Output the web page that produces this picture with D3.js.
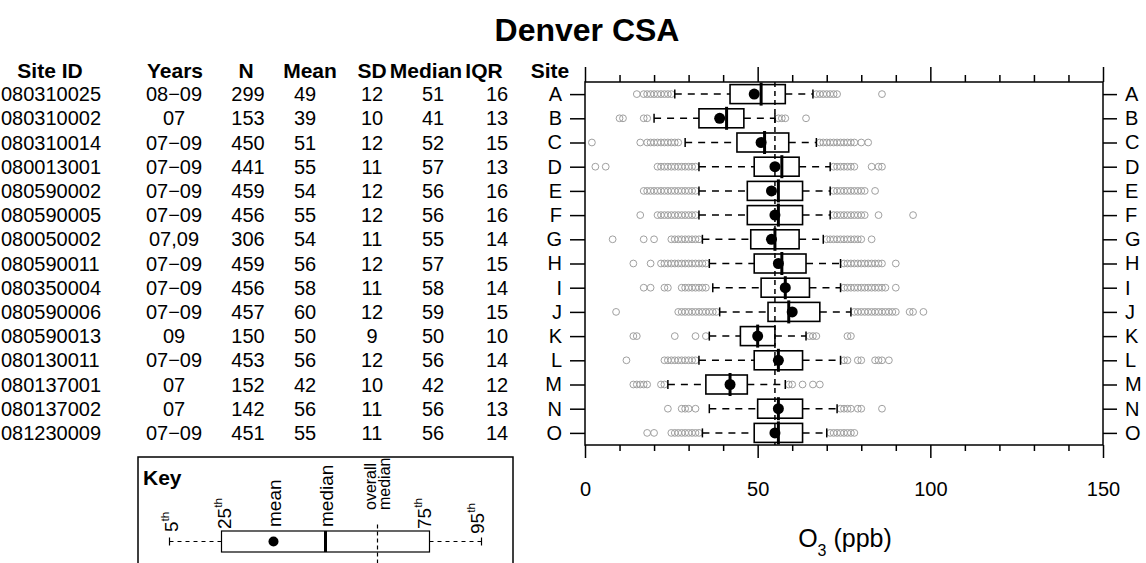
<!DOCTYPE html>
<html><head><meta charset="utf-8">
<script src="https://cdn.jsdelivr.net/npm/d3@7"></script>
<style>
body{margin:0;background:#fff}
text{font-family:"Liberation Sans",Arial,sans-serif;fill:#000}
</style>
</head><body>
<svg id="c" width="1146" height="563"></svg>
<script>
// ---------- data ----------
const sites   = ["A","B","C","D","E","F","G","H","I","J","K","L","M","N","O"];
const siteIds = ["080310025","080310002","080310014","080013001","080590002","080590005","080050002","080590011","080350004","080590006","080590013","080130011","080137001","080137002","081230009"];
const years   = ["08−09","07","07−09","07−09","07−09","07−09","07,09","07−09","07−09","07−09","09","07−09","07","07","07−09"];
const nVals   = [299,153,450,441,459,456,306,459,456,457,150,453,152,142,451];
const means   = [49,39,51,55,54,55,54,56,58,60,50,56,42,56,55];
const sds     = [12,10,12,11,12,12,11,12,11,12,9,12,10,11,11];
const medians = [51,41,52,57,56,56,55,57,58,59,50,56,42,56,56];
const iqrs    = [16,13,15,13,16,16,14,15,14,15,10,14,12,13,14];
const p5      = [26,20,29,33,33,33,34,36,37,39,36,33,24,36,34];
const p25     = [42,33,44,49,47,47,48,49,51,53,45,49,35,50,49];
const p75     = [58,46,59,62,63,63,62,64,65,68,55,63,47,63,63];
const p95     = [66,55,67,71,71,71,69,74,74,77,64,74,58,73,70];
const lowOut  = [
  [15,17,18,19,20,21,22,23,24,25],
  [10,11,17,18],
  [2,16,18,19,20,21,22,23,24,25,26,27],
  [3,6,21,22,23,24,25,26,27,28,29,30,31,32],
  [17,18,19,20,21,22,23,24,25,26,27,28,29,30,31,32],
  [16,21,22,23,24,25,26,27,28,29,30,31,32],
  [8,17,20,25,26,27,28,29,30,31,32,33],
  [14,19,22,23,24,25,26,27,28,29,30,31,32,33,34,35],
  [17,19,23,24,28,29,30,31,32,33,34,35],
  [9,27,28,29,30,31,32,33,34,35,36,37,38],
  [14,15,26,32,35],
  [12,23,24,25,26,27,28,29,30,31,32],
  [14,15,16,17,18,22,23],
  [24,28,29,30,32],
  [18,20,25,26,27,28,29,30,31,32,33]
];
const highOut = [
  [67,68,69,70,71,72,73,86],
  [56,57,58,64],
  [68,69,70,71,72,73,74,75,76,77,78,80,82],
  [72,73,74,75,76,77,78,83,85,86],
  [72,73,74,75,76,77,78,79,80,81,84],
  [72,73,74,75,76,77,78,79,80,81,85,95],
  [70,71,72,73,74,75,76,77,78,79,80,83],
  [75,76,77,78,79,80,81,82,83,84,85,86,90],
  [75,76,77,78,79,80,81,82,83,84,85,86,87,90],
  [78,79,80,81,82,83,84,85,86,87,88,89,90,94,95,98],
  [65,66,67,76,77],
  [75,76,79,80,84,85,86,88],
  [59,60,63,66,68],
  [74,75,76,77,79,80,86],
  [71,72,73,74,75,76,77,78]
];
const overallMedian = 55;
const xMajor = [0,50,100,150];
const xMinor = [10,20,30,40,60,70,80,90,110,120,130,140];
const headers = ["Site ID","Years","N","Mean","SD","Median","IQR","Site"];
const keyItems = ["5th","25th","mean","median","overall median","75th","95th"];
const title = "Denver CSA";

// ---------- layout ----------
const svg = d3.select("#c");
const X0 = 585, X1 = 1103, Y0 = 82, Y1 = 445;
const x = d3.scaleLinear().domain([0,150]).range([X0,X1]);
const y = d3.scalePoint().domain(sites).range([Y0,Y1]).padding(0.5);

svg.append("text").attr("x",587).attr("y",41).attr("text-anchor","middle")
  .style("font-size","32px").style("font-weight","bold").text(title);

// table
const colX = [null,174,248,305,372,433,497];
const headX = [50,175,246,310,372,426,484,550];
const hg = svg.append("g").style("font-weight","bold").style("font-size","21px");
headers.forEach((h,i)=>{
  hg.append("text").attr("x",headX[i]).attr("y",78).attr("text-anchor","middle").text(h);
});
const cols = [siteIds, years, nVals, means, sds, medians, iqrs];
const tg = svg.append("g").style("font-size","20px");
sites.forEach((s,i)=>{
  const yy = y(s)+7;
  cols.forEach((c,j)=>{
    const t = tg.append("text").attr("y",yy).text(c[i]);
    if(j===0) t.attr("x",1).attr("text-anchor","start");
    else t.attr("x",colX[j]).attr("text-anchor","middle");
  });
});

// axes
function styleAxis(g){
  g.selectAll("path.domain").remove();
  g.selectAll("line").attr("stroke","#000").attr("stroke-width",1.5);
  g.selectAll("text").style("font-family","'Liberation Sans',Arial,sans-serif").attr("fill","#000");
}
svg.append("g").attr("transform",`translate(0,${Y0})`)
  .call(d3.axisTop(x).tickValues(xMinor).tickSize(7).tickFormat(""))
  .call(styleAxis);
svg.append("g").attr("transform",`translate(0,${Y0})`)
  .call(d3.axisTop(x).tickValues(xMajor).tickSize(15).tickFormat(""))
  .call(styleAxis);
svg.append("g").attr("transform",`translate(0,${Y1})`)
  .call(d3.axisBottom(x).tickValues(xMinor).tickSize(6).tickFormat(""))
  .call(styleAxis);
const bx = svg.append("g").attr("transform",`translate(0,${Y1})`)
  .call(d3.axisBottom(x).tickValues(xMajor).tickSize(13).tickPadding(24).tickFormat(d3.format("d")))
  .call(styleAxis);
bx.selectAll("text").style("font-size","20px");
const ly = svg.append("g").attr("transform",`translate(${X0},0)`)
  .call(d3.axisLeft(y).tickSize(15).tickPadding(8)).call(styleAxis);
ly.selectAll("text").style("font-size","20px");
const ry = svg.append("g").attr("transform",`translate(${X1},0)`)
  .call(d3.axisRight(y).tickSize(14).tickPadding(8)).call(styleAxis);
ry.selectAll("text").style("font-size","20px");

svg.append("rect").attr("x",X0).attr("y",Y0).attr("width",X1-X0).attr("height",Y1-Y0)
  .attr("fill","none").attr("stroke","#000").attr("stroke-width",1.5);

// axis title
const at = svg.append("text").attr("x",845).attr("y",547).attr("text-anchor","middle").style("font-size","25px");
at.append("tspan").text("O");
at.append("tspan").attr("baseline-shift","sub").style("font-size","16px").text("3");
at.append("tspan").text(" (ppb)");

// boxes
const bh = 19, ch = 9;
const pg = svg.append("g");
sites.forEach((s,i)=>{
  const cy = y(s);
  pg.selectAll(null).data(lowOut[i].concat(highOut[i])).enter().append("circle")
    .attr("cx",d=>x(d)).attr("cy",cy).attr("r",3.4)
    .attr("fill","none").attr("stroke","#a0a0a0").attr("stroke-width",1);
  [[p5[i],p25[i]],[p75[i],p95[i]]].forEach(([a,b])=>{
    pg.append("line").attr("x1",x(a)).attr("x2",x(b)).attr("y1",cy).attr("y2",cy)
      .attr("stroke","#000").attr("stroke-width",1.5).attr("stroke-dasharray","7,6");
  });
  [p5[i],p95[i]].forEach(v=>{
    pg.append("line").attr("x1",x(v)).attr("x2",x(v)).attr("y1",cy-ch/2).attr("y2",cy+ch/2)
      .attr("stroke","#000").attr("stroke-width",1.5);
  });
  pg.append("rect").attr("x",x(p25[i])).attr("y",cy-bh/2).attr("width",x(p75[i])-x(p25[i])).attr("height",bh)
    .attr("fill","none").attr("stroke","#000").attr("stroke-width",1.6);
  pg.append("line").attr("x1",x(medians[i])).attr("x2",x(medians[i])).attr("y1",cy-bh/2-2).attr("y2",cy+bh/2+2)
    .attr("stroke","#000").attr("stroke-width",3);
  pg.append("circle").attr("cx",x(means[i])).attr("cy",cy).attr("r",5.5).attr("fill","#000");
});
pg.append("line").attr("x1",x(overallMedian)).attr("x2",x(overallMedian)).attr("y1",Y0).attr("y2",Y1)
  .attr("stroke","#000").attr("stroke-width",1.5).attr("stroke-dasharray","5,4");

// key
const kg = svg.append("g");
kg.append("rect").attr("x",138).attr("y",457).attr("width",375).attr("height",120)
  .attr("fill","none").attr("stroke","#000").attr("stroke-width",1.5);
kg.append("text").attr("x",143).attr("y",485).style("font-size","21px").style("font-weight","bold").text("Key");
const kx = d3.scalePoint().domain(keyItems).range([169.5,481.5]);
const ky = 541.5;
kg.append("line").attr("x1",kx("5th")).attr("x2",kx("25th")).attr("y1",ky).attr("y2",ky)
  .attr("stroke","#000").attr("stroke-width",1).attr("stroke-dasharray","4,4");
kg.append("line").attr("x1",kx("75th")).attr("x2",kx("95th")).attr("y1",ky).attr("y2",ky)
  .attr("stroke","#000").attr("stroke-width",1).attr("stroke-dasharray","4,4");
["5th","95th"].forEach(k=>kg.append("line").attr("x1",kx(k)).attr("x2",kx(k)).attr("y1",ky-4).attr("y2",ky+4)
  .attr("stroke","#000").attr("stroke-width",1.2));
kg.append("rect").attr("x",kx("25th")).attr("y",ky-10.5).attr("width",kx("75th")-kx("25th")).attr("height",21)
  .attr("fill","none").attr("stroke","#000").attr("stroke-width",1.2);
kg.append("line").attr("x1",kx("median")).attr("x2",kx("median")).attr("y1",ky-10.5).attr("y2",ky+10.5)
  .attr("stroke","#000").attr("stroke-width",3);
kg.append("circle").attr("cx",kx("mean")).attr("cy",ky).attr("r",5).attr("fill","#000");
kg.append("line").attr("x1",kx("overall median")).attr("x2",kx("overall median")).attr("y1",ky-17).attr("y2",563)
  .attr("stroke","#000").attr("stroke-width",1.2).attr("stroke-dasharray","4,3");
function rotLabel(cx, by, size, parts){
  const t = kg.append("text").attr("transform",`translate(${cx},${by}) rotate(-90)`)
    .attr("dominant-baseline","central").style("font-size",size+"px");
  parts.forEach(p=>{
    const ts = t.append("tspan").text(p.t);
    if(p.sup) ts.attr("baseline-shift","super").style("font-size",(size*0.62)+"px");
  });
}
rotLabel(kx("5th")+1, 532, 19, [{t:"5"},{t:"th",sup:true}]);
rotLabel(kx("25th")+2, 529, 19, [{t:"25"},{t:"th",sup:true}]);
rotLabel(kx("mean"), 527, 19, [{t:"mean"}]);
rotLabel(kx("median"), 527, 19, [{t:"median"}]);
rotLabel(kx("overall median")-8, 510, 16, [{t:"overall"}]);
rotLabel(kx("overall median")+6, 510, 16, [{t:"median"}]);
rotLabel(kx("75th")-6, 529, 19, [{t:"75"},{t:"th",sup:true}]);
rotLabel(kx("95th")-5, 534, 19, [{t:"95"},{t:"th",sup:true}]);
</script>
</body></html>
